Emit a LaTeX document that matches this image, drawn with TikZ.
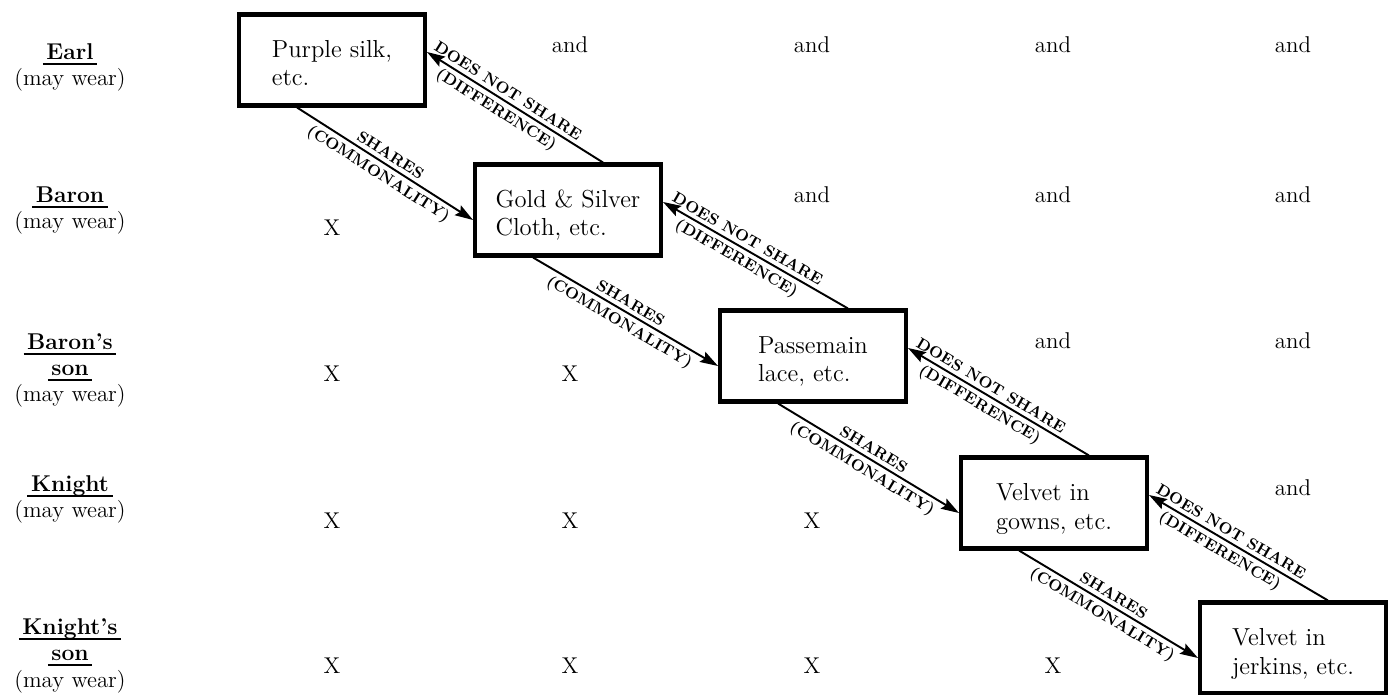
\documentclass[tikz,border=0pt]{standalone}
\usetikzlibrary{arrows.meta}

\newcommand{\rankul}[1]{\setbox0\hbox{\bfseries #1}%
  \rlap{\kern-2pt\rule[-3pt]{\dimexpr\wd0+4pt\relax}{1.1pt}}\box0}

\begin{document}
\begin{tikzpicture}[x=0.02cm,y=-0.02cm,
    cloth/.style={draw,line width=2.3pt,minimum width=3.72cm,minimum height=1.82cm,
      align=left,text height=31.6pt,text depth=2pt,font=\fontsize{14}{16.5}\selectfont},
    rank/.style={align=center,anchor=base,font=\fontsize{13}{14.8}\selectfont},
    cell/.style={anchor=base,font=\fontsize{13}{15}\selectfont},
    link/.style={line width=1.1pt,-{Stealth[length=3.6mm,width=2.3mm,inset=0.6mm]}},
    tag/.style={sloped,inner sep=2.2pt,font=\fontsize{9}{9.5}\selectfont\bfseries}]
  \useasboundingbox (0,0) rectangle (1390,695);

  \foreach \n/\y/\str in {earl/86/{\rankul{Earl}\\(may wear)},
                          baron/229/{\rankul{Baron}\\(may wear)},
                          baronson/402/{\rankul{Baron's}\\\rankul{son}\\(may wear)},
                          knight/518/{\rankul{Knight}\\(may wear)},
                          knightson/687/{\rankul{Knight's}\\\rankul{son}\\(may wear)}}
    \node[rank] (\n) at (70,\y) {\str};

  \foreach \n/\x/\y/\str in {1/332/60/{Purple silk,\\etc.},
                             2/568/210/{Gold \& Silver\\Cloth, etc.},
                             3/813/356/{Passemain\\lace, etc.},
                             4/1054/503/{Velvet in\\gowns, etc.},
                             5/1293/648/{Velvet in\\jerkins, etc.}}
    \node[cloth] (cloth\n) at (\x,\y) {\str};

  \foreach \r/\y in {1/60,2/210,3/356,4/503,5/648}
  {\foreach \c/\x in {1/332,2/570,3/812,4/1053,5/1293}
   {\ifnum\c>\r \node[cell] (and\r\c) at (\x,\y-7) {and}; \fi
    \ifnum\c<\r \node[cell] (x\r\c) at (\x,\y+26) {X}; \fi
   }
  }

  \foreach \a/\b in {1/2,2/3,3/4,4/5}
  {\draw[link] ([xshift=-0.7cm]cloth\a.south) -- ([yshift=-0.2cm]cloth\b.west)
     node[tag,pos=0.5,above] {SHARES} node[tag,pos=0.5,below] {(COMMONALITY)};
   \draw[link] ([xshift=0.7cm]cloth\b.north) -- ([yshift=0.16cm]cloth\a.east)
     node[tag,pos=0.57,above] {DOES NOT SHARE} node[tag,pos=0.57,below] {(DIFFERENCE)};
  }
\end{tikzpicture}
\end{document}
